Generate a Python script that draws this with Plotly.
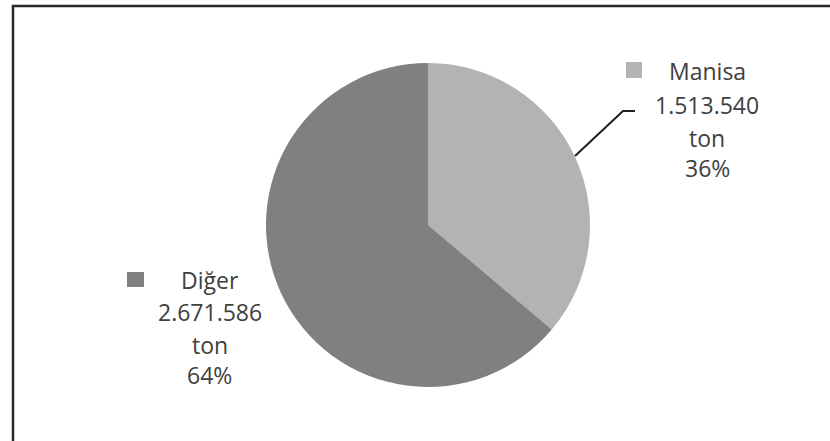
import plotly.graph_objects as go

# Production shares (ton)
regions = ["Manisa", "Diğer"]
tonnage = [1513540, 2671586]
slice_colors = ["#b3b3b3", "#808083"]

W, H = 830, 441

def px(x):
    return x / W

def py(y):
    return 1 - y / H

def fmt_ton(v):
    return f"{v:,}".replace(",", ".")

total = sum(tonnage)
shares = [round(100 * v / total) for v in tonnage]

# Pie placement (center 428,225 ; radius 162 in pixels)
cx, cy, r = 428, 225, 162

fig = go.Figure(go.Pie(
    labels=regions,
    values=tonnage,
    sort=False,
    direction="clockwise",
    rotation=0,
    marker=dict(colors=slice_colors, line=dict(width=0)),
    textinfo="none",
    hoverinfo="label+value+percent",
    domain=dict(x=[px(cx - r), px(cx + r)], y=[py(cy + r), py(cy - r)]),
    showlegend=False,
))

text_font = dict(family="Open Sans, Lato, sans-serif", size=23, color="#404040")

# Label blocks: text center x, line centers y, legend-key box
label_layout = {
    "Manisa": dict(x=707, ys=[71, 105, 138, 168.5], key=(626, 62, 642, 78)),
    "Diğer": dict(x=210, ys=[280, 311.5, 344.5, 375], key=(127, 272, 144, 287)),
}

annotations = []
shapes = []
for name, v, pct, col in zip(regions, tonnage, shares, slice_colors):
    lay = label_layout[name]
    lines = [name, fmt_ton(v), "ton", f"{pct}%"]
    for line, yy in zip(lines, lay["ys"]):
        annotations.append(dict(
            x=px(lay["x"]), y=py(yy), xref="paper", yref="paper",
            text=line, showarrow=False, xanchor="center", yanchor="middle",
            font=text_font,
        ))
    x0, y0, x1, y1 = lay["key"]
    shapes.append(dict(type="rect", xref="paper", yref="paper",
                       x0=px(x0), x1=px(x1), y0=py(y1), y1=py(y0),
                       fillcolor=col, line=dict(width=0)))

# Leader line for Manisa label
shapes.append(dict(
    type="path", xref="paper", yref="paper",
    path=f"M {px(635)} {py(111)} L {px(623)} {py(111)} L {px(575)} {py(156)}",
    line=dict(color="#1e1e1e", width=2),
))

# Chart area frame
shapes.append(dict(type="rect", xref="paper", yref="paper",
                   x0=px(13), x1=px(W + 10), y0=py(H + 10), y1=py(6),
                   line=dict(color="#2a2a2a", width=2.5), fillcolor="rgba(0,0,0,0)"))

fig.update_layout(
    width=W, height=H,
    margin=dict(l=0, r=0, t=0, b=0),
    paper_bgcolor="white",
    plot_bgcolor="white",
    annotations=annotations,
    shapes=shapes,
)

fig.write_html("out.html")
